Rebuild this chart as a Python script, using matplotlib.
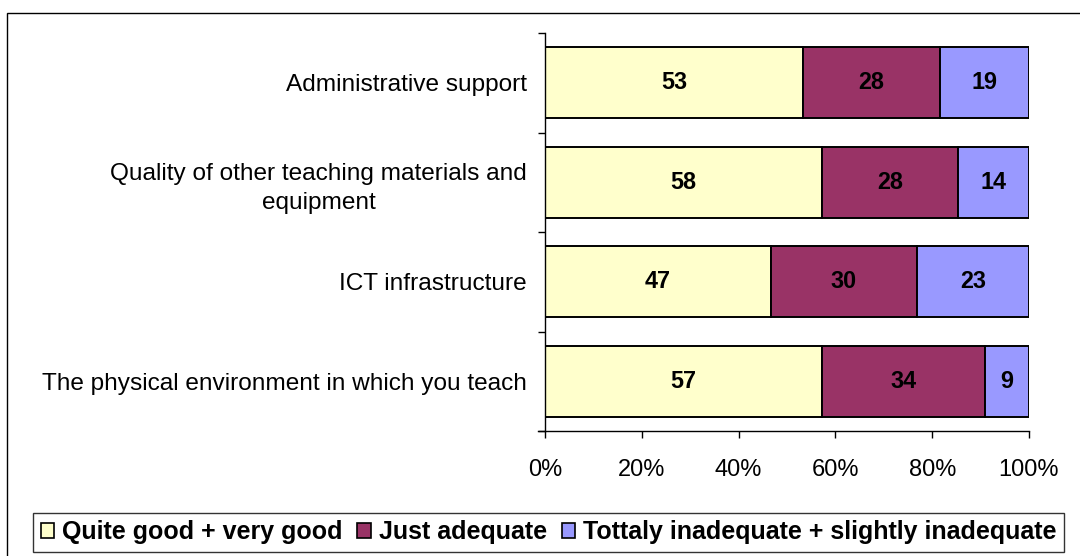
import matplotlib
matplotlib.use("Agg")
import matplotlib.pyplot as plt
from matplotlib.patches import Rectangle
from matplotlib.ticker import FuncFormatter
import numpy as np

plt.rcParams['font.family'] = ['Liberation Sans', 'DejaVu Sans']

categories = ["Administrative support",
              "Quality of other teaching materials and\nequipment",
              "ICT infrastructure",
              "The physical environment in which you teach"]
series_names = ["Quite good + very good", "Just adequate",
                "Tottaly inadequate + slightly inadequate"]
# segment widths (%)
good = [53.3, 57.2, 46.6, 57.2]
adequate = [28.3, 28.2, 30.2, 33.8]
inadequate = [18.4, 14.6, 23.2, 9.0]
# printed labels
good_lbl = [53, 58, 47, 57]
adequate_lbl = [28, 28, 30, 34]
inadequate_lbl = [19, 14, 23, 9]
xticks = [0, 20, 40, 60, 80, 100]

colors = ["#FFFFCC", "#993366", "#9999FF"]

W, H = 1080, 556
fig = plt.figure(figsize=(W/100, H/100), dpi=100)
ax = fig.add_axes([545/W, 1-431/H, (1029-545)/W, (431-33)/H])

# outer frame
fig.patches.append(Rectangle((7/W, -0.1), 1.2, 1-13/H+0.1, transform=fig.transFigure,
                             fill=False, edgecolor='black', linewidth=1.0))

ypos = np.arange(len(categories))[::-1]
left = np.zeros(len(categories))
for vals, lbls, col, name in zip([good, adequate, inadequate],
                                 [good_lbl, adequate_lbl, inadequate_lbl],
                                 colors, series_names):
    vals = np.array(vals)
    bars = ax.barh(ypos, vals, left=left, height=0.71, color=col,
                   edgecolor='black', linewidth=1.4, label=name)
    for b, l in zip(bars, lbls):
        ax.text(b.get_x() + b.get_width()/2, b.get_y() + b.get_height()/2, str(l),
                ha='center', va='center', fontsize=16.8, fontweight='bold', color='black')
    left += vals

ax.set_xlim(0, 100)
ax.set_ylim(-0.5, 3.5)
for s in ['top', 'right']:
    ax.spines[s].set_visible(False)
ax.spines['left'].set_linewidth(1.0)
ax.spines['bottom'].set_linewidth(1.0)
ax.spines['bottom'].set_bounds(-1.5, 100)

ax.set_xticks(xticks)
ax.xaxis.set_major_formatter(FuncFormatter(lambda v, p: f"{int(v)}%"))
ax.tick_params(axis='x', direction='out', length=5, width=1, pad=15, labelsize=17)

ax.set_yticks(ypos)
ax.set_yticklabels(categories, fontsize=17.6, multialignment='center', linespacing=1.45)
ax.tick_params(axis='y', which='major', length=0, pad=13)
ax.set_yticks(np.arange(-0.5, 4.0, 1.0), minor=True)
ax.tick_params(axis='y', which='minor', direction='out', length=5, width=1)

leg = fig.legend(loc='center', bbox_to_anchor=((29+1068)/2/W, 1-532/H), ncol=3,
                 frameon=True, fancybox=False, edgecolor='black',
                 prop={'weight': 'bold', 'size': 18}, handlelength=0.55, handleheight=0.55,
                 handletextpad=0.3, columnspacing=0.6, borderpad=0.3, borderaxespad=0)
leg.get_frame().set_linewidth(1.0)
for h in leg.legend_handles:
    h.set_linewidth(1.2)

fig.savefig("out.png", dpi=100)
